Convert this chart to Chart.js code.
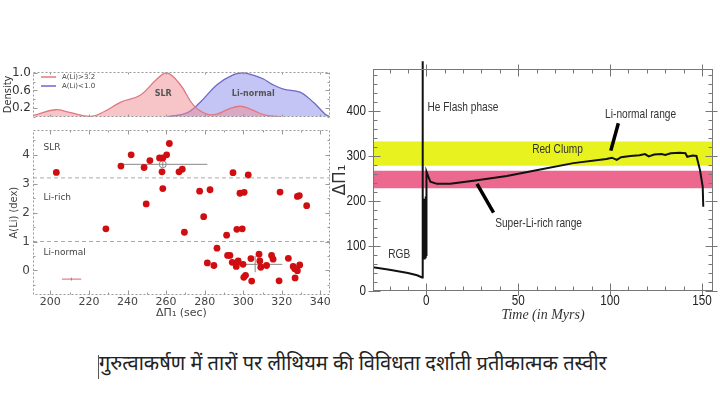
<!DOCTYPE html>
<html>
<head>
<meta charset="utf-8">
<script src="https://cdn.jsdelivr.net/npm/chart.js@4.4.0/dist/chart.umd.min.js"></script>
<style>
  body { margin: 0; background: #fff; width: 720px; height: 393px; position: relative; overflow: hidden; }
  canvas { position: absolute; }
  #density { left: 0; top: 60px; }
  #scatter { left: 0; top: 120px; }
  #evol { left: 328px; top: 55px; }
  #caption { position: absolute; left: 99px; top: 349px; font-family: "Noto Sans", "DejaVu Sans", sans-serif; font-size: 20px; color: #222; white-space: nowrap; }
  #cursor { position: absolute; left: 98px; top: 355px; width: 1px; height: 24px; background: #555; }
</style>
</head>
<body>
<canvas id="density" width="340" height="66"></canvas>
<canvas id="scatter" width="340" height="200"></canvas>
<canvas id="evol" width="392" height="272"></canvas>
<div id="cursor"></div>
<div id="caption">गुरुत्वाकर्षण में तारों पर लीथियम की विविधता दर्शाती प्रतीकात्मक तस्वीर</div>
<script>
// ---- left top: density of period spacing
const slrDensX = [191, 202.6, 210, 220.7, 228, 236.3, 246.6, 255.3, 260.5, 267.4, 274.3, 281.2, 286.4, 292, 298.4, 304, 310.5, 319.2];
const slrDensY = [0.03, 0.16, 0.1, 0.01, 0.12, 0.33, 0.49, 0.86, 1.0, 0.73, 0.26, 0.06, 0.06, 0.17, 0.24, 0.17, 0.05, 0.0];
const normDensX = [260.5, 270.8, 277.7, 286.4, 295, 300.2, 305, 310.5, 315, 320.9, 329.5, 336.4, 342.5, 345];
const normDensY = [0.0, 0.09, 0.33, 0.73, 0.96, 1.0, 0.95, 0.86, 0.74, 0.63, 0.56, 0.33, 0.06, 0.0];
const densityTicks = [0.2, 0.6, 1.0];

// ---- left bottom: A(Li) vs delta Pi_1
const starDp = [203.1, 236.6, 241.9, 248.6, 251.6, 256.6, 258.3, 260.3, 261.7, 257.9, 266.7, 268.4, 294.7, 302.6,
  258.3, 277.4, 282.8, 249.7, 298.3, 300.5, 319.1, 328.1, 329.1, 332.9, 279.5, 228.8, 269.5, 296.7, 299.5, 291.4,
  286.4, 291.9, 293.1, 281.4, 284.8, 294.3, 296.7, 297.4, 296.4, 299.9, 304.0, 308.2, 308.6, 309.1, 312.1, 314.7,
  315.5, 323.4, 325.9, 326.7, 328.1, 329.3, 326.9, 301.2, 300.3, 304.4, 318.6];
const starALi = [3.39, 3.61, 4.0, 3.56, 3.8, 3.89, 3.89, 4.0, 4.39, 3.41, 3.41, 3.5, 3.38, 3.3,
  2.83, 2.74, 2.79, 2.3, 2.67, 2.7, 2.71, 2.56, 2.59, 2.24, 1.86, 1.44, 1.32, 1.42, 1.44, 1.22,
  0.77, 0.52, 0.52, 0.26, 0.17, 0.28, 0.26, 0.33, 0.14, 0.21, 0.41, 0.56, 0.33, 0.11, 0.17, 0.52,
  0.39, 0.42, 0.14, 0.06, -0.01, 0.19, -0.26, -0.17, -0.24, -0.37, -0.36];
const errX = [258.3, 306.2, 210.9];
const errY = [3.67, 0.21, -0.30];
const errXLo = [235.3, 300.9, 206.0];
const errXHi = [281.4, 320.3, 216.0];
const errYLo = [3.58, -0.06, -0.35];
const errYHi = [3.76, 0.50, -0.25];
const liLimits = [3.2, 1.0];
const dpTicks = [200, 220, 240, 260, 280, 300, 320, 340];
const aliTicks = [0, 1, 2, 3, 4];

// ---- right: period spacing evolution
const timeMyr = [-29, -20, -10, -5, -2.3, -2.1, -1.8, -1.5, -1.2, -0.9, -0.6, -0.3, -0.1, 0.1, 1, 2.2, 5.8, 13, 25.7,
  43.8, 62, 80, 98, 101, 103.6, 106, 111, 116, 119, 121, 124, 128, 130, 133, 138, 141, 142, 145, 147, 148.9, 150.4, 150.7];
const dPi1 = [53, 47, 40, 35, 30, 510, 70, 205, 72, 205, 75, 210, 80, 265, 255, 243, 238, 238, 245,
  255.5, 270, 284, 293, 296, 291, 297, 300, 301.5, 304, 299, 303, 304, 302, 306, 307, 306, 298, 300.7, 300, 269, 232, 187];
const clumpBand = [278, 332];
const superLiBand = [228, 267];
const linormPointerT = [104.5, 100.4];
const linormPointerV = [372.7, 311.8];
const superPointerT = [27.6, 36.6];
const superPointerV = [237.8, 174];
const timeTicks = [0, 50, 100, 150];
const dPiTicks = [0, 100, 200, 300, 400];

const zip = (xs, ys) => xs.map((x, i) => ({ x, y: ys[i] }));
const fixTicks = (vals) => (scale) => { scale.ticks = vals.map(v => ({ value: v })); };

// frame + inward tick marks, drawn from the scales
const framePlugin = {
  id: 'frame',
  afterDatasetsDraw(chart, args, o) {
    const { ctx, chartArea: a } = chart;
    const sx = chart.scales.x, sy = chart.scales.y;
    const L = Math.round(a.left) + 0.5, R = Math.round(a.right) - 0.5;
    const T = Math.round(a.top) + 0.5, B = Math.round(a.bottom) - 0.5;
    ctx.save();
    ctx.strokeStyle = o.color;
    ctx.lineWidth = 1;
    ctx.setLineDash(o.dash || []);
    ctx.strokeRect(L, T, R - L, B - T);
    ctx.setLineDash([]);
    const seg = (x1, y1, x2, y2) => { ctx.beginPath(); ctx.moveTo(x1, y1); ctx.lineTo(x2, y2); ctx.stroke(); };
    const xs = (v, len, out) => {
      const p = Math.round(sx.getPixelForValue(v)) + 0.5;
      seg(p, B + out, p, B - len);
      seg(p, T - out, p, T + len);
    };
    const ys = (v, len, out) => {
      const p = Math.round(sy.getPixelForValue(v)) + 0.5;
      seg(L - out, p, L + len, p);
      seg(R + out, p, R - len, p);
    };
    if (o.xMinor) for (let v = o.xMinor[0]; v <= sx.max; v += o.xMinor[1]) xs(v, o.minor, 0);
    if (o.yMinor) for (let v = o.yMinor[0]; v <= sy.max; v += o.yMinor[1]) ys(v, o.minor, 0);
    if (o.xTicks) sx.ticks.forEach(t => xs(t.value, o.major, o.out || 0));
    sy.ticks.forEach(t => ys(t.value, o.major, o.out || 0));
    ctx.restore();
  }
};

// text labels placed in data coordinates (squeeze = horizontal narrowing)
const textPlugin = {
  id: 'texts',
  afterDatasetsDraw(chart, args, o) {
    const { ctx, chartArea: a } = chart;
    const sx = chart.scales.x, sy = chart.scales.y;
    const put = (text, px, py, font, color, align, squeeze) => {
      ctx.save();
      ctx.translate(px, py);
      ctx.scale(squeeze || 1, 1);
      ctx.font = font;
      ctx.fillStyle = color || '#333';
      ctx.textAlign = align || 'left';
      ctx.textBaseline = 'middle';
      ctx.fillText(text, 0, 0);
      ctx.restore();
    };
    (o.items || []).forEach(t => put(t.text, sx.getPixelForValue(t.x), sy.getPixelForValue(t.y), t.font, t.color, t.align, t.squeeze));
    if (o.tickLabels) {
      const k = o.tickLabels;
      sx.ticks.forEach(t => put(String(t.value), sx.getPixelForValue(t.value), a.bottom + k.xGap, k.font, k.color, 'center', k.squeeze));
      sy.ticks.forEach(t => put(String(t.value), a.left - k.yGap, sy.getPixelForValue(t.value), k.font, k.color, 'right', k.squeeze));
    }
    if (o.legend) {
      o.legend.forEach((l, i) => {
        const y = a.top + 5 + i * 9;
        ctx.save();
        ctx.strokeStyle = l.color; ctx.lineWidth = 1.5;
        ctx.beginPath(); ctx.moveTo(a.left + 8, y); ctx.lineTo(a.left + 23, y); ctx.stroke();
        ctx.restore();
        put(l.text, a.left + 29, y, '7px "DejaVu Sans"', '#444', 'left', 1);
      });
    }
  }
};

Chart.register(framePlugin, textPlugin);
Chart.defaults.animation = false;
Chart.defaults.responsive = false;
Chart.defaults.plugins.legend.display = false;
Chart.defaults.plugins.tooltip.enabled = false;

const noGrid = { display: false, drawTicks: false };
const noBorder = { display: false };

// density panel
new Chart(document.getElementById('density'), {
  type: 'scatter',
  data: {
    datasets: [
      { data: zip(slrDensX, slrDensY), showLine: true, tension: 0.4, pointRadius: 0, borderWidth: 1.3,
        borderColor: 'rgb(224,120,130)', backgroundColor: 'rgba(240,140,145,0.5)', fill: 'origin' },
      { data: zip(normDensX, normDensY), showLine: true, tension: 0.4, pointRadius: 0, borderWidth: 1.3,
        borderColor: 'rgb(110,105,200)', backgroundColor: 'rgba(140,140,235,0.5)', fill: 'origin' }
    ]
  },
  options: {
    layout: { padding: { top: 12, right: 10, bottom: 3, left: 0 } },
    scales: {
      x: { type: 'linear', display: false, min: 191, max: 345 },
      y: { type: 'linear', min: 0, max: 1.02, grid: noGrid, border: noBorder,
        afterBuildTicks: fixTicks(densityTicks), afterFit: s => { s.width = 33; },
        ticks: { padding: 2, color: '#333', font: { family: 'DejaVu Sans', size: 12 }, callback: v => v.toFixed(1) },
        title: { display: true, text: 'Density', color: '#333', padding: { top: 2 },
          font: { family: 'DejaVu Sans Condensed', size: 11 } } }
    },
    plugins: {
      frame: { color: '#999', dash: [2, 2], major: 4, minor: 2, xTicks: false, xMinor: [200, 20], yMinor: [0, 0.2] },
      texts: {
        items: [
          { text: 'SLR', x: 258.5, y: 0.52, align: 'center', font: 'bold 8px "DejaVu Sans"', color: '#555' },
          { text: 'Li-normal', x: 305.2, y: 0.52, align: 'center', font: 'bold 8px "DejaVu Sans"', color: '#555' }
        ],
        legend: [{ text: 'A(Li)>3.2', color: 'rgb(224,120,130)' }, { text: 'A(Li)<1.0', color: 'rgb(110,105,200)' }]
      }
    }
  }
});

// scatter panel
const errSets = [];
errX.forEach((cx, i) => {
  const col = i === 2 ? 'rgb(220,100,110)' : '#888';
  errSets.push({ data: [{ x: errXLo[i], y: errY[i] }, { x: errXHi[i], y: errY[i] }], showLine: true, pointRadius: 0, borderColor: col, borderWidth: 1 });
  errSets.push({ data: [{ x: cx, y: errYLo[i] }, { x: cx, y: errYHi[i] }], showLine: true, pointRadius: 0, borderColor: col, borderWidth: 1 });
});
new Chart(document.getElementById('scatter'), {
  type: 'scatter',
  data: {
    datasets: [
      ...liLimits.map(v => ({ data: [{ x: 191, y: v }, { x: 345, y: v }], showLine: true, pointRadius: 0,
        borderColor: '#aaa', borderWidth: 1, borderDash: [4, 3] })),
      { data: zip(starDp, starALi), pointRadius: 3.4, pointBorderWidth: 0, backgroundColor: 'rgb(208,14,18)' },
      ...errSets,
      { data: [{ x: errX[0], y: errY[0] }], pointRadius: 3.5, pointBorderWidth: 1, borderColor: '#888', backgroundColor: 'rgba(0,0,0,0)' }
    ]
  },
  options: {
    layout: { padding: { top: 5, right: 10, bottom: 0, left: 0 } },
    scales: {
      x: { type: 'linear', min: 191, max: 345, grid: noGrid, border: noBorder,
        afterBuildTicks: fixTicks(dpTicks), afterFit: s => { s.height = 25; },
        ticks: { padding: 1, color: '#444', font: { family: 'DejaVu Sans', size: 11 } },
        title: { display: true, text: 'ΔΠ₁ (sec)', color: '#444', padding: { bottom: 0, top: 0 },
          font: { family: 'DejaVu Sans', size: 11 } } },
      y: { type: 'linear', min: -0.85, max: 4.85, grid: noGrid, border: noBorder,
        afterBuildTicks: fixTicks(aliTicks), afterFit: s => { s.width = 33; },
        ticks: { padding: 3, color: '#444', font: { family: 'DejaVu Sans', size: 12 } },
        title: { display: true, text: 'A(Li) (dex)', color: '#444', padding: { top: 8 },
          font: { family: 'DejaVu Sans Condensed', size: 11 } } }
    },
    plugins: {
      frame: { color: '#999', dash: [2, 2], major: 4, minor: 2, xTicks: true, xMinor: [200, 10], yMinor: [-0.5, 0.5] },
      texts: {
        items: [
          { text: 'SLR', x: 196.4, y: 4.23, font: '9px "DejaVu Sans"', color: '#444' },
          { text: 'Li-rich', x: 196.4, y: 2.5, font: '9px "DejaVu Sans"', color: '#444' },
          { text: 'Li-normal', x: 196.4, y: 0.6, font: '9px "DejaVu Sans"', color: '#444' }
        ]
      }
    }
  }
});

// evolution panel
const noteFont = '13px "Liberation Sans"';
new Chart(document.getElementById('evol'), {
  type: 'scatter',
  data: {
    datasets: [
      { data: zip(timeMyr, dPi1), showLine: true, pointRadius: 0, borderColor: '#111', borderWidth: 2, order: 0,
        clip: { left: 0, top: 12, right: 0, bottom: 0 } },
      { data: zip(linormPointerT, linormPointerV), showLine: true, pointRadius: 0, borderColor: '#000', borderWidth: 3.5, order: 1 },
      { data: zip(superPointerT, superPointerV), showLine: true, pointRadius: 0, borderColor: '#000', borderWidth: 3.5, order: 1 },
      { data: [{ x: -29, y: clumpBand[1] }, { x: 156, y: clumpBand[1] }], showLine: true, pointRadius: 0, borderWidth: 0, order: 5,
        backgroundColor: 'rgb(232,242,30)', fill: { value: clumpBand[0] } },
      { data: [{ x: -29, y: superLiBand[1] }, { x: 156, y: superLiBand[1] }], showLine: true, pointRadius: 0, borderWidth: 0, order: 5,
        backgroundColor: 'rgb(236,104,142)', fill: { value: superLiBand[0] } }
    ]
  },
  options: {
    layout: { padding: { top: 14, right: 7, bottom: 0, left: 0 } },
    scales: {
      x: { type: 'linear', min: -29, max: 156, grid: noGrid, border: noBorder,
        afterBuildTicks: fixTicks(timeTicks), afterFit: s => { s.height = 36; },
        ticks: { display: false },
        title: { display: true, text: 'Time (in Myrs)', color: '#333', padding: { bottom: 3 },
          font: { family: 'Liberation Serif', size: 14, style: 'italic' } } },
      y: { type: 'linear', min: 0, max: 493, grid: noGrid, border: noBorder,
        afterBuildTicks: fixTicks(dPiTicks), afterFit: s => { s.width = 45; },
        ticks: { display: false },
        title: { display: true, text: 'ΔΠ₁', color: '#333', padding: { top: 2 },
          font: { family: 'DejaVu Sans', size: 17 } } }
    },
    plugins: {
      frame: { color: '#777', major: 7, minor: 4, out: 5, xTicks: true, xMinor: [-20, 10], yMinor: [20, 20] },
      texts: {
        tickLabels: { font: '15px "Liberation Sans"', color: '#222', squeeze: 0.78, xGap: 10, yGap: 7 },
        items: [
          { text: 'He Flash phase', x: 0.6, y: 407, font: noteFont, color: '#333', squeeze: 0.78 },
          { text: 'Red Clump', x: 57.6, y: 315.5, font: noteFont, color: '#333', squeeze: 0.78 },
          { text: 'Li-normal range', x: 97.3, y: 393, font: noteFont, color: '#333', squeeze: 0.78 },
          { text: 'Super-Li-rich range', x: 37.5, y: 151, font: noteFont, color: '#333', squeeze: 0.78 },
          { text: 'RGB', x: -20.7, y: 82, font: noteFont, color: '#333', squeeze: 0.78 }
        ]
      }
    }
  }
});
</script>
</body>
</html>
